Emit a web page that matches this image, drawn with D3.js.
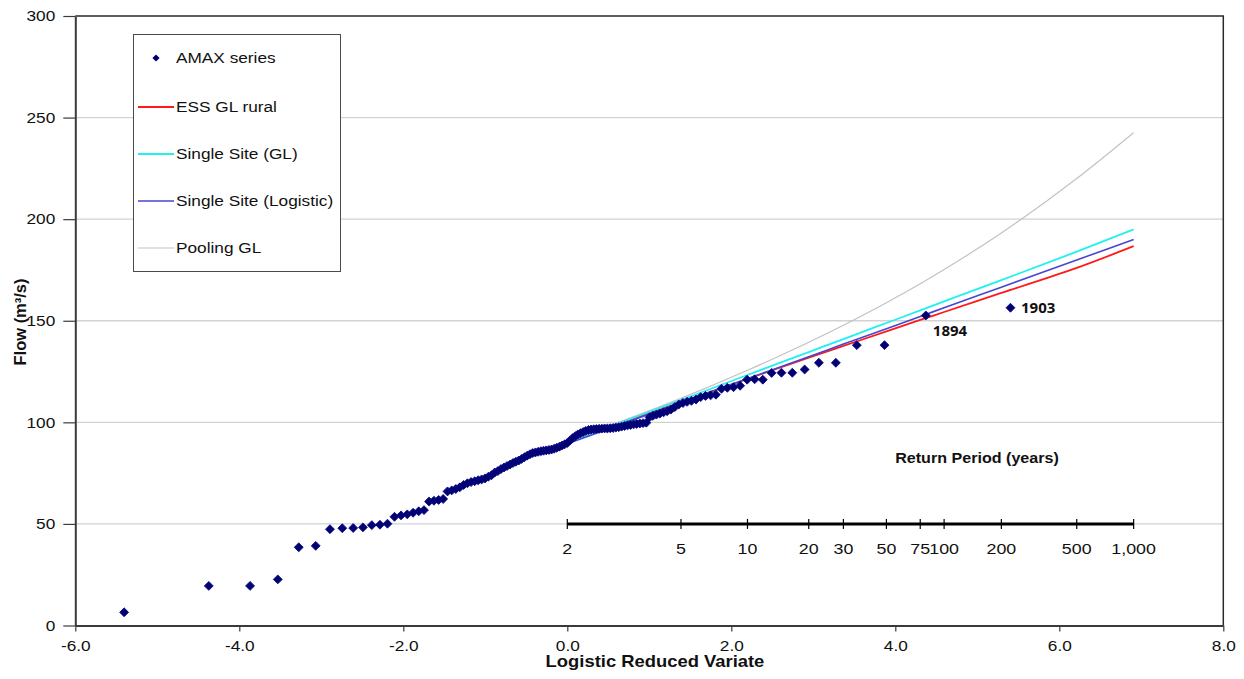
<!DOCTYPE html>
<html>
<head>
<meta charset="utf-8">
<script src="https://cdn.jsdelivr.net/npm/d3@7"></script>
<style>
  body { margin: 0; background: #fff; }
  svg text { font-family: "Liberation Sans", Arial, sans-serif; fill: #111; }
  .sx { transform-box: fill-box; transform: scaleX(1.15); }
  .sx-l { transform-origin: left center; }
  .sx-c { transform-origin: center; }
  .sx-r { transform-origin: right center; }
</style>
</head>
<body>
<svg id="chart" width="1244" height="679"></svg>
<script>
// Axis ticks
const xTicks = [-6, -4, -2, 0, 2, 4, 6, 8];
const yTicks = [0, 50, 100, 150, 200, 250, 300];

// Return period scale (years) and its labels
const returnPeriods = [2, 5, 10, 20, 30, 50, 75, 100, 200, 500, 1000];
const returnPeriodLabels = ["2", "5", "10", "20", "30", "50", "75", "100", "200", "500", "1,000"];

// Growth curves: flow (m3/s) at each return period above
const essGlRural         = [90.5, 110.0, 121.4, 131.8, 137.6, 144.8, 150.4, 154.3, 163.7, 176.0, 186.7];
const singleSiteGl       = [90.0, 111.0, 123.3, 134.6, 141.0, 148.9, 155.1, 159.5, 170.0, 184.0, 195.0];
const singleSiteLogistic = [89.5, 109.7, 121.5, 132.3, 138.5, 146.1, 152.1, 156.4, 166.5, 179.9, 190.0];
const poolingGl          = [90.8, 111.8, 125.6, 139.4, 147.8, 158.9, 168.2, 175.2, 193.2, 220.0, 242.6];

// Annual maximum flows (m3/s), ranked smallest to largest
const amaxFlows = [
  6.5, 19.5, 19.5, 22.7, 38.5, 39.2, 47.4, 47.9, 48.0, 48.3,
  49.4, 49.6, 50.1, 53.5, 54.2, 54.7, 55.5, 56.2, 56.8, 61.0,
  61.4, 61.8, 62.3, 66.0, 66.5, 67.2, 68.0, 69.2, 70.0, 70.6,
  71.0, 71.5, 71.9, 72.4, 73.2, 74.0, 75.3, 76.0, 77.0, 77.8,
  78.5, 79.2, 80.0, 80.6, 81.2, 82.0, 82.8, 83.6, 84.3, 84.9,
  85.2, 85.5, 85.8, 86.0, 86.2, 86.4, 86.6, 87.0, 87.5, 88.0,
  88.6, 89.2, 89.8, 91.0, 92.2, 93.2, 94.0, 94.6, 95.2, 95.8,
  96.2, 96.5, 96.6, 96.7, 96.8, 96.9, 97.0, 97.0, 97.1, 97.2,
  97.4, 97.6, 97.9, 98.2, 98.5, 98.7, 99.0, 99.2, 99.4, 99.6,
  99.8, 102.5, 103.2, 103.8, 104.3, 104.9, 105.5, 106.3, 107.5, 108.8,
  109.5, 110.1, 110.6, 111.2, 112.4, 113.0, 113.3, 113.6, 116.5, 117.0,
  117.3, 118.0, 121.0, 121.2, 121.0, 124.3, 124.4, 124.4, 126.0, 129.3,
  129.3, 138.0, 138.0, 152.6, 156.4
];

// Years labelled next to the two largest events
const annotatedYears = ["1894", "1903"];
const annotatedRanks = [124, 125];

// Legend entries
const legendNames = ["AMAX series", "ESS GL rural", "Single Site (GL)", "Single Site (Logistic)", "Pooling GL"];

// ---------------------------------------------------------------
const svg = d3.select("#chart");
const plotLeft = 75.3, plotRight = 1223.3, plotTop = 16, plotBottom = 625.5;

const x = d3.scaleLinear().domain([-6, 8]).range([plotLeft, plotRight]);
const y = d3.scaleLinear().domain([0, 300]).range([plotBottom, plotTop]);

// logistic reduced variate of a return period
const reducedVariate = T => Math.log(T - 1);
// Gringorten plotting position for rank i of n, as logistic reduced variate
const n = amaxFlows.length;
const plottingVariate = i => { const F = (i - 0.44) / (n + 0.12); return Math.log(F / (1 - F)); };

// Gridlines
svg.append("g").selectAll("line")
  .data(yTicks.filter(v => v > 0 && v < 300))
  .join("line")
  .attr("x1", plotLeft).attr("x2", plotRight)
  .attr("y1", d => y(d)).attr("y2", d => y(d))
  .attr("stroke", "#d2d2d2").attr("stroke-width", 1.3);

// Plot frame (top and right)
svg.append("path")
  .attr("d", `M${plotLeft},${plotTop}H${plotRight}V${plotBottom}`)
  .attr("fill", "none").attr("stroke", "#2a2a2a").attr("stroke-width", 1.5);

// Axes
const xAxis = svg.append("g")
  .attr("transform", `translate(0,${plotBottom})`)
  .call(d3.axisBottom(x).tickValues(xTicks).tickFormat(d => d.toFixed(1)).tickSize(6).tickPadding(9).tickSizeOuter(0));
const yAxis = svg.append("g")
  .attr("transform", `translate(${plotLeft},0)`)
  .call(d3.axisLeft(y).tickValues(yTicks).tickSize(12).tickPadding(8).tickSizeOuter(0));
[xAxis, yAxis].forEach(g => {
  g.select(".domain").attr("stroke", "#3a3a3a").attr("stroke-width", 2);
  g.selectAll(".tick line").attr("stroke", "#3a3a3a").attr("stroke-width", 1.2);
  g.selectAll("text").style("font-size", "15px").attr("fill", "#111")
    .style("font-family", '"Liberation Sans", Arial, sans-serif');
});
xAxis.selectAll("text").attr("class", "sx sx-c");
yAxis.selectAll("text").attr("class", "sx sx-r");

// Axis titles
svg.append("text")
  .attr("class", "sx sx-c")
  .attr("x", 655).attr("y", 667)
  .attr("text-anchor", "middle")
  .style("font-size", "16px").style("font-weight", "bold")
  .text("Logistic Reduced Variate");
svg.append("text")
  .attr("transform", "translate(25.5,322) rotate(-90)")
  .attr("text-anchor", "middle")
  .style("font-size", "16.5px").style("font-weight", "bold")
  .text("Flow (m³/s)");

// Return period scale drawn along the 50 m3/s line
const rpY = y(50);
const rp = svg.append("g");
rp.append("line")
  .attr("x1", x(reducedVariate(returnPeriods[0])))
  .attr("x2", x(reducedVariate(returnPeriods[returnPeriods.length - 1])))
  .attr("y1", rpY).attr("y2", rpY)
  .attr("stroke", "#000").attr("stroke-width", 3);
rp.selectAll("line.tk")
  .data(returnPeriods)
  .join("line").attr("class", "tk")
  .attr("x1", d => x(reducedVariate(d))).attr("x2", d => x(reducedVariate(d)))
  .attr("y1", rpY - 5).attr("y2", rpY + 5)
  .attr("stroke", "#000").attr("stroke-width", 1.2);
rp.selectAll("text")
  .data(returnPeriods)
  .join("text")
  .attr("class", "sx sx-c")
  .attr("x", d => x(reducedVariate(d)))
  .attr("y", rpY + 30)
  .attr("text-anchor", "middle")
  .style("font-size", "15.5px")
  .text((d, i) => returnPeriodLabels[i]);
rp.append("text")
  .attr("class", "sx sx-c")
  .attr("x", 977).attr("y", 463)
  .attr("text-anchor", "middle")
  .style("font-size", "14px").style("font-weight", "bold")
  .text("Return Period (years)");

// Growth curves
const curves = [
  { values: poolingGl, color: "#c2c2c2", width: 1.2 },
  { values: essGlRural, color: "#ff1a1a", width: 1.8 },
  { values: singleSiteGl, color: "#1ff0f0", width: 1.8 },
  { values: singleSiteLogistic, color: "#4646d2", width: 1.6 }
];
const line = d3.line()
  .x(d => x(reducedVariate(d[0])))
  .y(d => y(d[1]))
  .curve(d3.curveMonotoneX);
svg.append("g").selectAll("path")
  .data(curves)
  .join("path")
  .attr("d", c => line(returnPeriods.map((T, i) => [T, c.values[i]])))
  .attr("fill", "none")
  .attr("stroke", c => c.color)
  .attr("stroke-width", c => c.width);

// AMAX points
const diamond = d3.symbol(d3.symbolSquare, 40);
svg.append("g").selectAll("path")
  .data(amaxFlows)
  .join("path")
  .attr("d", diamond)
  .attr("transform", (d, i) => `translate(${x(plottingVariate(i + 1))},${y(d)}) rotate(45)`)
  .attr("fill", "#000070")
  .attr("stroke", "#0a0a8a").attr("stroke-width", 0.8);

// Year annotations
const yearOffsets = [[7, 21], [10.5, 5.5]];
svg.append("g").selectAll("text")
  .data(annotatedYears)
  .join("text")
  .attr("x", (d, i) => x(plottingVariate(annotatedRanks[i])) + yearOffsets[i][0])
  .attr("y", (d, i) => y(amaxFlows[annotatedRanks[i] - 1]) + yearOffsets[i][1])
  .style("font-family", '"Noto Sans", sans-serif')
  .style("font-size", "15px").style("font-weight", "bold")
  .attr("fill", "#1a1a1a")
  .text(d => d);

// Legend
const lg = svg.append("g");
lg.append("rect")
  .attr("x", 133.5).attr("y", 34.5).attr("width", 207).attr("height", 237)
  .attr("fill", "#fff").attr("stroke", "#4a4a4a").attr("stroke-width", 1);
const legendRows = [58, 107, 154, 201, 248];
lg.append("path")
  .attr("d", d3.symbol(d3.symbolSquare, 26)())
  .attr("transform", `translate(156,${legendRows[0]}) rotate(45)`)
  .attr("fill", "#000070");
curves.slice(1).concat(curves.slice(0, 1)).forEach((c, k) => {
  lg.append("line")
    .attr("x1", 138).attr("x2", 174)
    .attr("y1", legendRows[k + 1]).attr("y2", legendRows[k + 1])
    .attr("stroke", c.color).attr("stroke-width", c.width);
});
lg.selectAll("text")
  .data(legendNames)
  .join("text")
  .attr("class", "sx sx-l")
  .attr("x", 176)
  .attr("y", (d, i) => legendRows[i] + 5.5)
  .style("font-size", "15px")
  .text(d => d);
</script>
</body>
</html>
